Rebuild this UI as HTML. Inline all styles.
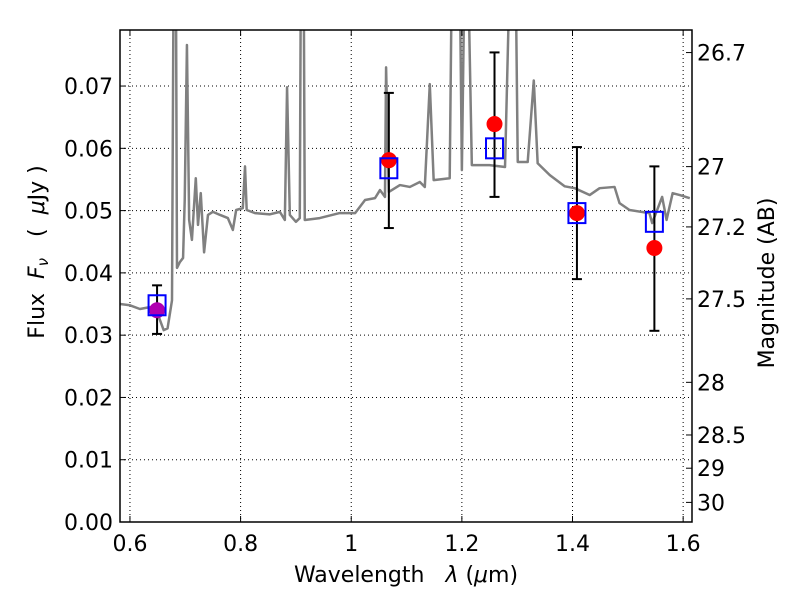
<!DOCTYPE html>
<html><head><meta charset="utf-8"><style>
body{margin:0;background:#fff;width:800px;height:600px;overflow:hidden}
svg text{font-family:"DejaVu Sans","Liberation Sans",sans-serif;fill:#000;white-space:pre}
</style></head><body>
<svg id="chart" width="800" height="600" viewBox="0 0 800 600" xmlns="http://www.w3.org/2000/svg"></svg>
<script>
const specX=[0.582,0.600,0.618,0.636,0.651,0.661,0.668,0.676,0.679,0.683,0.685,0.690,0.696,0.699,0.703,0.707,0.712,0.719,0.723,0.728,0.734,0.741,0.750,0.763,0.777,0.786,0.792,0.804,0.808,0.811,0.826,0.853,0.871,0.880,0.884,0.889,0.900,0.907,0.909,0.914,0.916,0.943,0.979,1.007,1.025,1.043,1.052,1.061,1.063,1.068,1.088,1.106,1.124,1.133,1.142,1.149,1.178,1.182,1.196,1.200,1.205,1.211,1.218,1.250,1.278,1.287,1.297,1.301,1.319,1.330,1.337,1.359,1.386,1.404,1.431,1.449,1.476,1.485,1.503,1.539,1.544,1.562,1.570,1.581,1.594,1.612];
const specY=[0.0350,0.0348,0.0342,0.0345,0.0332,0.0308,0.0311,0.0356,0.090,0.090,0.0408,0.0417,0.0424,0.0517,0.0766,0.0485,0.0453,0.0552,0.0477,0.0528,0.0433,0.0493,0.0498,0.0493,0.0488,0.0469,0.0501,0.0504,0.0571,0.0501,0.0496,0.0494,0.0498,0.0485,0.0698,0.0493,0.0482,0.0488,0.090,0.090,0.0485,0.0488,0.0496,0.0496,0.0517,0.0520,0.0533,0.0522,0.0730,0.0530,0.0541,0.0538,0.0546,0.0538,0.0703,0.0549,0.0552,0.090,0.090,0.0565,0.090,0.090,0.0573,0.0573,0.0570,0.090,0.090,0.0578,0.0578,0.0709,0.0576,0.0557,0.0539,0.0536,0.0525,0.0536,0.0538,0.0512,0.0501,0.0496,0.0480,0.0522,0.0485,0.0528,0.0525,0.0520];
const bandX=[0.649,1.068,1.259,1.408,1.548];
const modelY=[0.0348,0.0568,0.0600,0.0496,0.0482];
const obsY=[0.0340,0.0581,0.0639,0.0496,0.0440];
const errLo=[0.0302,0.0472,0.0522,0.0390,0.0307];
const errHi=[0.0380,0.0689,0.0754,0.0602,0.0571];
const xTicks=[0.6,0.8,1.0,1.2,1.4,1.6];
const xTickLabels=["0.6","0.8","1","1.2","1.4","1.6"];
const yTicks=[0,0.01,0.02,0.03,0.04,0.05,0.06,0.07];
const yTickLabels=["0.00","0.01","0.02","0.03","0.04","0.05","0.06","0.07"];
const magTicks=[26.7,27,27.2,27.5,28,28.5,29,30];
const magLabels=["26.7","27","27.2","27.5","28","28.5","29","30"];

const L=120,R=692,T=30,B=522,X0=0.582,X1=1.616,Y0=0,Y1=0.079;
const sx=v=>L+(v-X0)/(X1-X0)*(R-L);
const sy=v=>B-(v-Y0)/(Y1-Y0)*(B-T);
const svg=document.getElementById('chart');
const NS='http://www.w3.org/2000/svg';
function mk(tag,attrs,parent){const e=document.createElementNS(NS,tag);for(const k in attrs)e.setAttribute(k,attrs[k]);(parent||svg).appendChild(e);return e;}

const defs=mk('defs',{});const cp=mk('clipPath',{id:'clip'},defs);mk('rect',{x:L,y:T,width:R-L,height:B-T},cp);

const grid=mk('g',{});


xTicks.forEach(v=>{mk('line',{x1:sx(v),x2:sx(v),y1:T,y2:B,stroke:'#000','stroke-width':1,'stroke-dasharray':'1,3'},grid);});
yTicks.forEach(v=>{mk('line',{x1:L,x2:R,y1:sy(v),y2:sy(v),stroke:'#000','stroke-width':1,'stroke-dasharray':'1,3'},grid);});

const spec=mk('polyline',{points:specX.map((x,i)=>sx(x)+','+sy(specY[i])).join(' '),fill:'none',stroke:'#808080','stroke-width':2.5,'clip-path':'url(#clip)','stroke-linejoin':'round'});



bandX.forEach((x,i)=>{
  const g=mk('g',{});
  
  
  const cx=sx(x);
  mk('line',{x1:cx,x2:cx,y1:sy(errLo[i]),y2:sy(errHi[i]),stroke:'#000','stroke-width':2},g);
  mk('line',{x1:cx-5,x2:cx+5,y1:sy(errLo[i]),y2:sy(errLo[i]),stroke:'#000','stroke-width':2},g);
  mk('line',{x1:cx-5,x2:cx+5,y1:sy(errHi[i]),y2:sy(errHi[i]),stroke:'#000','stroke-width':2},g);
  mk('circle',{cx:cx,cy:sy(obsY[i]),r:8,fill:i==0?'#b000b0':'#ff0000'},g);
  mk('rect',{x:cx-8.5,y:sy(modelY[i])-10,width:17,height:20,fill:'none',stroke:'#0000ff','stroke-width':2},g);
});

const fr=mk('rect',{x:L,y:T,width:R-L,height:B-T,fill:'none',stroke:'#000','stroke-width':1.5});



xTicks.forEach((v,i)=>{
  mk('line',{x1:sx(v),x2:sx(v),y1:B,y2:B-6,stroke:'#000'});
  mk('line',{x1:sx(v),x2:sx(v),y1:T,y2:T+6,stroke:'#000'});
  const t=mk('text',{x:sx(v),y:B+29,'font-size':22,'text-anchor':'middle'});t.textContent=xTickLabels[i];
  
  
});
yTicks.forEach((v,i)=>{
  mk('line',{x1:L,x2:L+6,y1:sy(v),y2:sy(v),stroke:'#000'});
  const t=mk('text',{x:L-7,y:sy(v)+8,'font-size':22,'text-anchor':'end'});t.textContent=yTickLabels[i];
  
  
});
magTicks.forEach((m,i)=>{
  const y=sy(Math.pow(10,(23.9-m)/2.5))+3;
  mk('line',{x1:R,x2:R-6,y1:y,y2:y,stroke:'#000'});
  const t=mk('text',{x:R+5,y:y+8,'font-size':22});t.textContent=magLabels[i];
  
  
});

const xt=mk('text',{x:406,y:582,'font-size':22,'text-anchor':'middle'});
xt.innerHTML='Wavelength   <tspan font-style="italic">λ</tspan> (<tspan font-style="italic">μ</tspan>m)';


const yt=mk('text',{x:0,y:0,'font-size':22,'text-anchor':'middle',transform:'translate(44,252) rotate(-90)'});
yt.innerHTML='Flux  <tspan font-style="italic">F</tspan><tspan font-style="italic" font-size="15" dy="4">ν</tspan><tspan dy="-4">   (  </tspan><tspan font-style="italic">μ</tspan>Jy )';


const rt=mk('text',{x:0,y:0,'font-size':22,'text-anchor':'middle',transform:'translate(774,283) rotate(-90)'});
rt.textContent='Magnitude (AB)';


</script>
</body></html>
